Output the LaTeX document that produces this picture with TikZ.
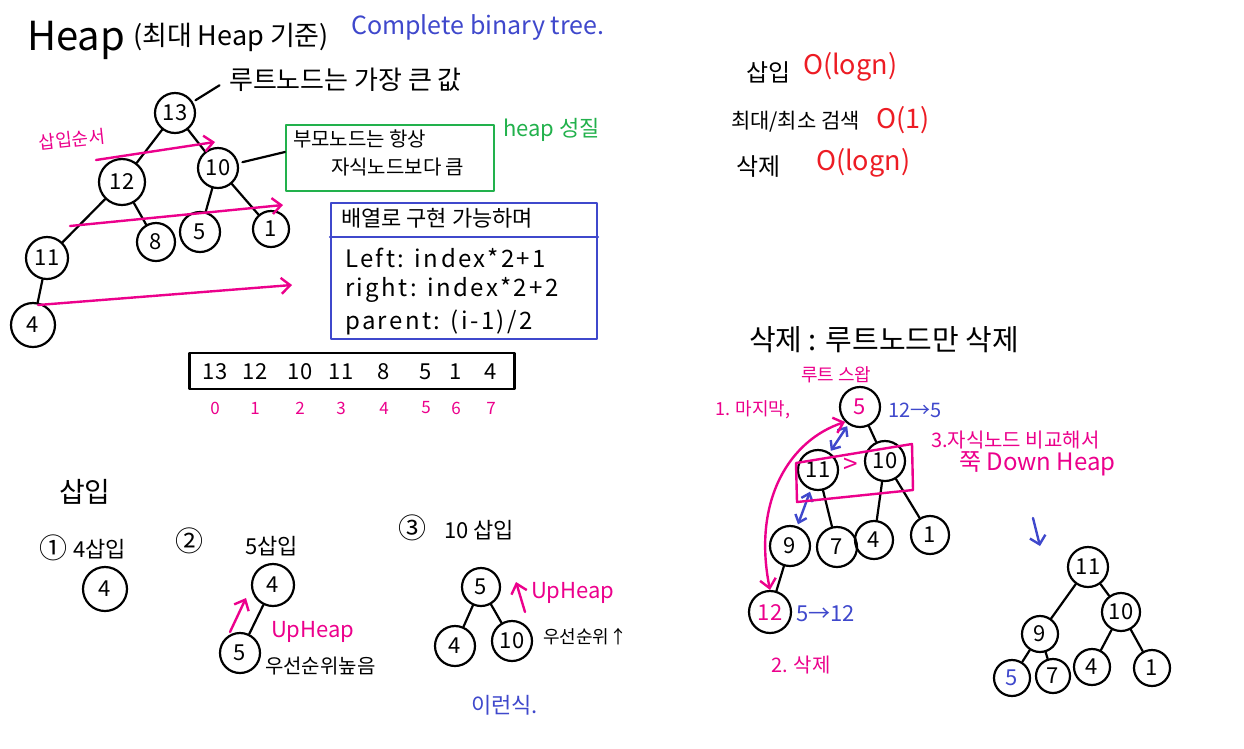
\documentclass[tikz,border=0pt]{standalone}
\usepackage{fontspec}
\setmainfont{Noto Sans CJK KR}
\usetikzlibrary{arrows.meta}
\definecolor{hpink}{RGB}{236,0,140}
\definecolor{hblue}{RGB}{63,72,204}
\definecolor{hgreen}{RGB}{34,177,76}
\definecolor{hred}{RGB}{237,28,36}
\newcommand{\fs}[1]{\fontsize{#1}{#1}\selectfont}
\newcommand{\wide}{\addfontfeature{LetterSpace=10}}
\begin{document}
\begin{tikzpicture}[x=1pt,y=-1pt,line width=2.2pt,line cap=round,line join=round,
  hn/.style={circle,draw,line width=2.2pt,inner sep=0pt,minimum size=40pt,font=\fs{22}},
  tx/.style={inner sep=0pt,anchor=west,font=\fs{22}},
  pk/.style={draw=hpink,line width=2.4pt},
  pkarr/.style={pk,-{Straight Barb[length=9pt,width=16pt,line width=2.4pt]}},
  bl/.style={draw=hblue,line width=2.4pt},
  blarr/.style={bl,{Straight Barb[length=7pt,width=12pt,line width=2.4pt]}-{Straight Barb[length=7pt,width=12pt,line width=2.4pt]}}]
\useasboundingbox (0,0) rectangle (1244,748);
\fill[white] (0,0) rectangle (1244,748);

% ---------- title ----------
\node[tx,font=\fs{40}] (title) at (26,40) {Heap};
\node[tx,font=\fs{27}] (title2) at (132,37) {(최대 Heap 기준)};
\node[tx,font=\fs{25},text=hblue] (cbt) at (350,27) {Complete binary tree.};

% ---------- top tree ----------
\node[hn,minimum size=40pt] (t13) at (175,113) {13};
\node[hn,minimum size=46pt] (t12) at (122,182) {12};
\node[hn,minimum size=40pt] (t10) at (218,168) {10};
\node[hn,minimum size=42pt] (t11) at (47,258) {11};
\node[hn,minimum size=38pt] (t8) at (156,242) {8};
\node[hn,minimum size=40pt] (t5) at (200,232) {5};
\node[hn,minimum size=36pt] (t1) at (271,229) {1};
\node[hn,minimum size=44pt] (t4) at (33,325) {4};
\draw (t13) -- (t12);
\draw (t13) -- (t10);
\draw (t12) -- (t11);
\draw (t12) -- (t8);
\draw (t10) -- (t5);
\draw (t10) -- (t1);
\draw (t11) -- (t4);

\node[tx,font=\fs{26}] (troot) at (228,80) {루트노드는 가장 큰 값};
\draw[shorten <=3pt,shorten >=10pt] (t13) -- (troot.west);

\node[tx,font=\fs{18},text=hpink,rotate=6] (order) at (38,143) {삽입순서};
\coordinate (o1s) at (96,160);
\coordinate (o1e) at (215,142);
\coordinate (o2s) at (70,226);
\coordinate (o2e) at (283,205);
\coordinate (o3s) at (38,305);
\coordinate (o3e) at (292,285);
\draw[pkarr] (o1s) -- (o1e);
\draw[pkarr] (o2s) -- (o2e);
\draw[pkarr] (o3s) -- (o3e);

% green box
\node[draw=hgreen,line width=2.2pt,minimum width=208pt,minimum height=66pt,inner sep=0pt] (gbox) at (390,158) {};
\node[tx,font=\fs{20}] (g1) at (292,139) {부모노드는 항상};
\node[tx,font=\fs{20}] (g2) at (330,167) {자식노드보다 큼};
\draw[shorten <=4pt] (t10) -- (gbox.west |- 0,152);
\node[tx,font=\fs{22},text=hgreen] (hp) at (502,130) {heap 성질};

% blue box
\node[draw=hblue,line width=2.2pt,minimum width=266pt,minimum height=136pt,inner sep=0pt] (bbox) at (464,271) {};
\draw[hblue,line width=2.2pt] (bbox.west |- 0,237) -- (bbox.east |- 0,237);
\node[tx,font=\fs{22}] (b0) at (340,218) {배열로 구현 가능하며};
\node[tx,font=\fs{24}\wide] (b1) at (344,258) {Left: index*2+1};
\node[tx,font=\fs{24}\wide] (b2) at (344,290) {right: index*2+2};
\node[tx,font=\fs{24}\wide] (b3) at (344,322) {parent: (i-1)/2};

% array
\node[draw,line width=2.2pt,minimum width=325pt,minimum height=36pt,inner sep=0pt] (arr) at (352,371) {};
\foreach \v/\x/\i [count=\k] in {13/215/0,12/255/1,10/300/2,11/341/3,8/384/4,5/426/5,1/456/6,4/491/7}{
  \node[font=\fs{22},inner sep=0pt] (a\k) at (\x,372) {\v};
  \node[font=\fs{17},inner sep=0pt,text=hpink] (ix\k) at (\x,408) {\i};
}

% ---------- complexity ----------
\node[tx,font=\fs{24}] (c1) at (745,72) {삽입};
\node[tx,font=\fs{27},text=hred] (c1o) at (802,67) {O(logn)};
\node[tx,font=\fs{21}] (c2) at (730,122) {최대/최소 검색};
\node[tx,font=\fs{27},text=hred] (c2o) at (875,120) {O(1)};
\node[tx,font=\fs{24}] (c3) at (735,167) {삭제};
\node[tx,font=\fs{27},text=hred] (c3o) at (815,163) {O(logn)};

% ---------- deletion ----------
\node[tx,font=\fs{29}] (del) at (748,340) {삭제 : 루트노드만 삭제};
\node[hn,minimum size=40pt,text=hpink] (d5) at (860,407) {5};
\node[hn,minimum size=40pt] (d11) at (818,470) {11};
\node[hn,minimum size=40pt] (d10) at (885,461) {10};
\node[hn,minimum size=40pt] (d9) at (790,546) {9};
\node[hn,minimum size=40pt] (d7) at (837,547) {7};
\node[hn,minimum size=38pt] (d4) at (874,540) {4};
\node[hn,minimum size=38pt] (d1) at (930,535) {1};
\node[hn,minimum size=42pt,text=hpink] (d12) at (770,612) {12};
\draw (d5) -- (d10);
\draw (d11) -- (d7);
\draw (d10) -- (d4);
\draw (d10) -- (d1);
\draw (d9) -- (d12);
\draw[blarr,shorten <=2pt,shorten >=2pt] (d5) -- (d11);
\draw[blarr,shorten <=2pt,shorten >=2pt] (d11) -- (d9);
\node[font=\fs{26},text=hpink,inner sep=0pt] (gt) at (851,466) {>};
\draw[pk] (796,463) -- (912,444) -- (913,490) -- (797,502) -- cycle;
\draw[pk,{Straight Barb[length=9pt,width=16pt,line width=2.4pt]}-{Straight Barb[length=9pt,width=16pt,line width=2.4pt]}]
  (d12.north) .. controls (752,500) and (790,440) .. (d5.south west);
\node[tx,font=\fs{18},text=hpink] (s1a) at (714,410) {1. 마지막,};
\node[tx,font=\fs{18},text=hpink] (s1b) at (800,375) {루트 스왑};
\node[tx,font=\fs{20},text=hblue] (s12) at (887,410) {12→5};
\node[tx,font=\fs{20},text=hpink] (s3a) at (930,440) {3.자식노드 비교해서};
\node[tx,font=\fs{24},text=hpink] (s3b) at (958,464) {쭉 Down Heap};
\node[tx,font=\fs{22},text=hblue] (s512) at (795,614) {5→12};
\node[tx,font=\fs{20},text=hpink] (s2) at (770,665) {2. 삭제};

% result tree
\coordinate (dwa) at (1033,518);
\coordinate (dwb) at (1040,546);
\draw[bl,-{Straight Barb[length=8pt,width=16pt,line width=2.4pt]}] (dwa) -- (dwb);
\node[hn,minimum size=40pt] (r11) at (1088,567) {11};
\node[hn,minimum size=38pt] (r10) at (1121,612) {10};
\node[hn,minimum size=36pt] (r9) at (1040,634) {9};
\node[hn,minimum size=36pt,text=hblue] (r5) at (1012,678) {5};
\node[hn,minimum size=34pt] (r7) at (1053,676) {7};
\node[hn,minimum size=36pt] (r4) at (1092,667) {4};
\node[hn,minimum size=36pt] (r1) at (1152,668) {1};
\draw (r11) -- (r9);
\draw (r11) -- (r10);
\draw (r9) -- (r5);
\draw (r9) -- (r7);
\draw (r10) -- (r4);
\draw (r10) -- (r1);

% ---------- insertion ----------
\node[tx,font=\fs{28}] (ins) at (58,492) {삽입};
\node[tx,font=\fs{28}] (st1n) at (38,548) {①};
\node[tx,font=\fs{22}] (st1) at (72,549) {4삽입};
\node[hn,minimum size=44pt] (i4a) at (105,589) {4};
\node[tx,font=\fs{28}] (st2n) at (174,541) {②};
\node[tx,font=\fs{22}] (st2) at (244,546) {5삽입};
\node[hn,minimum size=42pt] (i4b) at (273,585) {4};
\node[hn,minimum size=40pt] (i5b) at (240,653) {5};
\draw (i4b) -- (i5b);
\coordinate (u1s) at (230,632);
\coordinate (u1e) at (246,598);
\draw[pkarr] (u1s) -- (u1e);
\node[tx,font=\fs{22},text=hpink] (uh1) at (270,632) {UpHeap};
\node[tx,font=\fs{20}] (pr1) at (264,666) {우선순위높음};
\node[tx,font=\fs{28}] (st3n) at (397,528) {③};
\node[tx,font=\fs{22}] (st3) at (443,530) {10 삽입};
\node[hn,minimum size=38pt] (i5c) at (481,587) {5};
\node[hn,minimum size=40pt] (i4c) at (455,646) {4};
\node[hn,minimum size=40pt] (i10c) at (512,641) {10};
\draw (i5c) -- (i4c);
\draw (i5c) -- (i10c);
\coordinate (u2s) at (525,612);
\coordinate (u2e) at (516,582);
\draw[pkarr] (u2s) -- (u2e);
\node[tx,font=\fs{22},text=hpink] (uh2) at (530,593) {UpHeap};
\node[tx,font=\fs{18}] (pr2) at (542,637) {우선순위↑};
\node[tx,font=\fs{22},text=hblue] (like) at (470,705) {이런식.};
\end{tikzpicture}
\end{document}
